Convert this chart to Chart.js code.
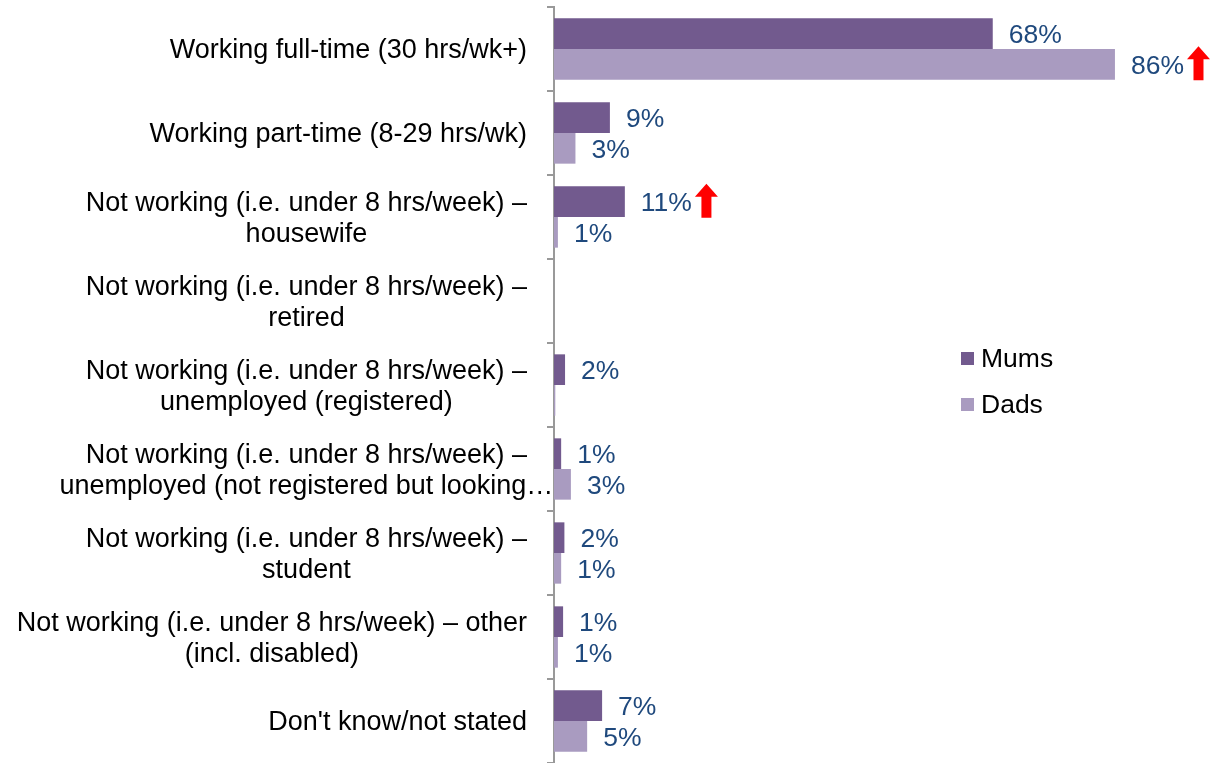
<!DOCTYPE html>
<html>
<head>
<meta charset="utf-8">
<script src="https://cdn.jsdelivr.net/npm/chart.js@4"></script>
<style>
  html, body { margin: 0; padding: 0; background: #fff; }
  #wrap { position: relative; width: 1212px; height: 763px; }
</style>
</head>
<body>
<div id="wrap"><canvas id="chart"></canvas></div>
<script>
// ── Data ──────────────────────────────────────────────────────────────────────
const CATEGORIES = [
  'Working full-time (30 hrs/wk+)',
  'Working part-time (8-29 hrs/wk)',
  'Not working (i.e. under 8 hrs/week) –\nhousewife',
  'Not working (i.e. under 8 hrs/week) –\nretired',
  'Not working (i.e. under 8 hrs/week) –\nunemployed (registered)',
  'Not working (i.e. under 8 hrs/week) –\nunemployed (not registered but looking…',
  'Not working (i.e. under 8 hrs/week) –\nstudent',
  'Not working (i.e. under 8 hrs/week) – other\n(incl. disabled)',
  "Don't know/not stated",
];
const MUMS = [67.5, 8.6, 10.9, null, 1.7, 1.1, 1.6, 1.4, 7.4];
const DADS = [86.3, 3.3, 0.6, null, 0.2, 2.6, 1.1, 0.6, 5.1];

// significant-increase flags (red up arrow after the label)
const MUMS_UP = [false, false, true, false, false, false, false, false, false];
const DADS_UP = [true, false, false, false, false, false, false, false, false];

const SERIES_NAMES  = ['Mums', 'Dads'];
const SERIES_COLORS = ['#725A8E', '#A99BC0'];

const FONT = '"Liberation Sans", Arial, sans-serif';
const LABEL_COLOR = '#1F497D';

function drawArrow(ctx, x, cy) {
  // red block arrow
  const w = 23, h = 34, head = 13, shaft = 10;
  const top = cy - h / 2, cx = x + w / 2;
  ctx.beginPath();
  ctx.moveTo(cx, top);
  ctx.lineTo(x + w, top + head);
  ctx.lineTo(cx + shaft / 2, top + head);
  ctx.lineTo(cx + shaft / 2, top + h);
  ctx.lineTo(cx - shaft / 2, top + h);
  ctx.lineTo(cx - shaft / 2, top + head);
  ctx.lineTo(x, top + head);
  ctx.closePath();
  ctx.fillStyle = '#FF0000';
  ctx.fill();
}

// ── Custom drawing: value labels, category labels, legend ────────────────────
const decorPlugin = {
  id: 'decor',
  afterDatasetsDraw(chart) {
    const ctx = chart.ctx;
    const flags = [MUMS_UP, DADS_UP];
    ctx.save();

    // value labels + arrows
    ctx.font = '26.5px ' + FONT;
    ctx.textBaseline = 'middle';
    ctx.textAlign = 'left';
    chart.data.datasets.forEach((ds, di) => {
      chart.getDatasetMeta(di).data.forEach((bar, i) => {
        const v = ds.data[i];
        if (v == null || Math.round(v) < 1) return;
        const txt = Math.round(v) + '%';
        const x = bar.x + 16;
        ctx.fillStyle = LABEL_COLOR;
        ctx.fillText(txt, x, bar.y + 2.5);
        if (flags[di][i]) drawArrow(ctx, x + ctx.measureText(txt).width + 3, bar.y - 1);
      });
    });

    // category labels: block right-aligned, lines centred within block
    const yScale = chart.scales.y;
    const rightEdge = chart.chartArea.left - 27;
    const lh = 31;
    ctx.font = '27px ' + FONT;
    ctx.fillStyle = '#000';
    ctx.textAlign = 'center';
    CATEGORIES.forEach((lab, i) => {
      const lines = lab.split('\n');
      const w = ctx.measureText(lines[0]).width;
      const cx = rightEdge - w / 2;
      const cy = yScale.getPixelForTick(i) + 2;
      lines.forEach((ln, k) => {
        ctx.fillText(ln, cx, cy + (k - (lines.length - 1) / 2) * lh);
      });
    });

    // legend
    ctx.textAlign = 'left';
    ctx.font = '26.5px ' + FONT;
    SERIES_NAMES.forEach((name, k) => {
      const y = 358 + k * 46;
      ctx.fillStyle = SERIES_COLORS[k];
      ctx.fillRect(961, y - 6, 13, 13);
      ctx.fillStyle = '#000';
      ctx.fillText(name, 981, y + 2);
    });

    ctx.restore();
  }
};

new Chart(document.getElementById('chart'), {
  type: 'bar',
  data: {
    labels: CATEGORIES,
    datasets: SERIES_NAMES.map((name, k) => ({
      label: name,
      data: k === 0 ? MUMS : DADS,
      backgroundColor: SERIES_COLORS[k],
      borderWidth: 0,
      categoryPercentage: 0.73,
      barPercentage: 1.0,
    })),
  },
  options: {
    indexAxis: 'y',
    responsive: true,
    maintainAspectRatio: false,
    animation: false,
    layout: { padding: { top: 7, right: 8, bottom: 0, left: 0 } },
    plugins: { legend: { display: false }, tooltip: { enabled: false } },
    scales: {
      x: { display: false, min: 0, max: 100 },
      y: {
        afterFit: s => { s.width = 554; },
        ticks: { display: false },
        grid: { drawOnChartArea: false, drawTicks: true, tickLength: 7, color: '#999', lineWidth: 2, offset: true },
        border: { display: true, color: '#999', width: 2 },
      },
    },
  },
  plugins: [decorPlugin],
});
</script>
</body>
</html>
